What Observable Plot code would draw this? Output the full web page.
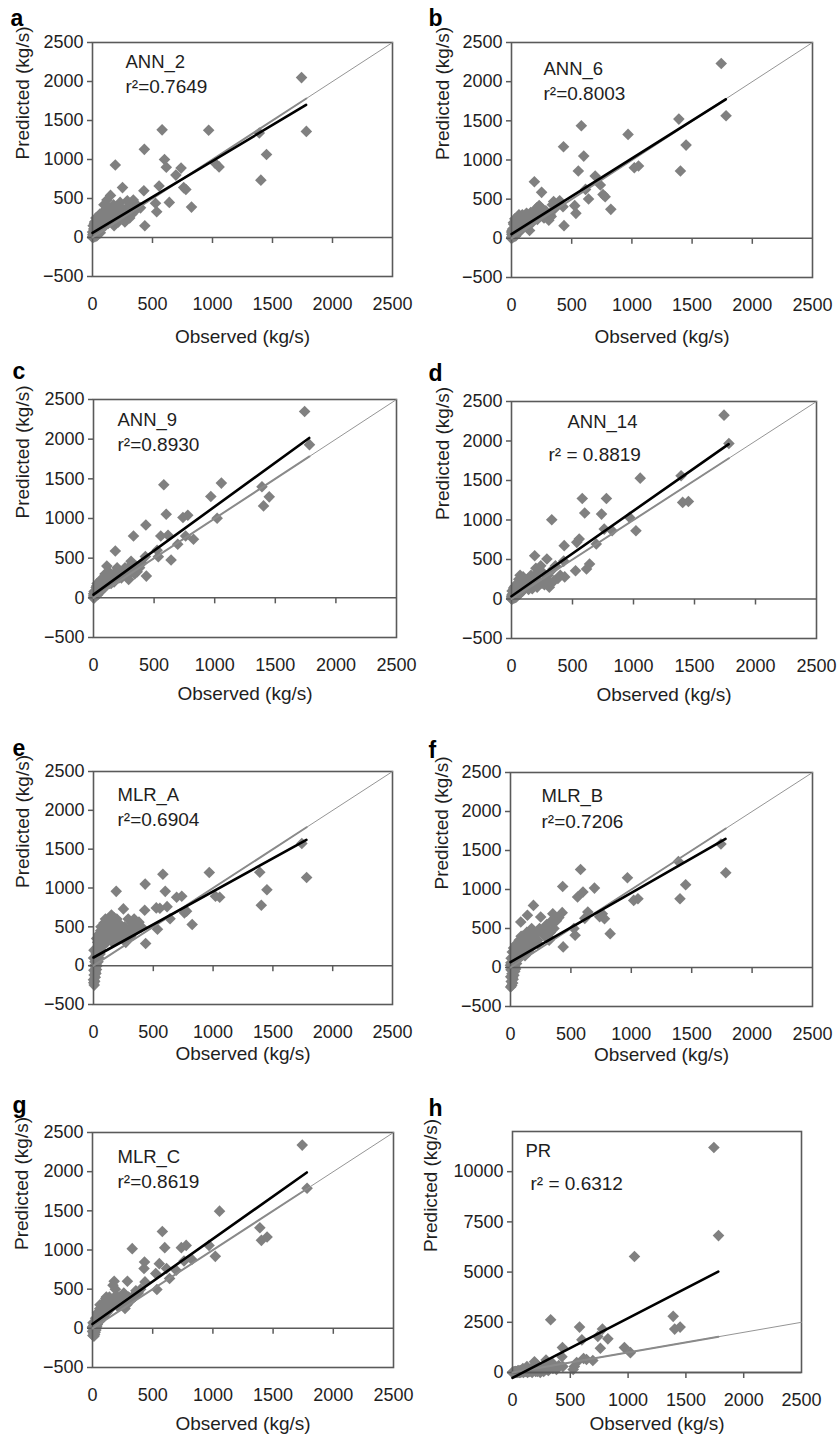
<!DOCTYPE html>
<html><head><meta charset="utf-8">
<script src="https://cdn.jsdelivr.net/npm/d3@7"></script>
<script src="https://cdn.jsdelivr.net/npm/@observablehq/plot@0.6"></script>
<style>
body{margin:0;background:#fff;}
#fig{position:relative;width:839px;height:1436px;overflow:hidden;background:#fff;}
.panel{position:absolute;}
</style></head><body><div id="fig"></div>
<script>
// ---- data ----
const panelKeys = ["a","b","c","d","e","f","g","h"];
const modelNames = ["ANN_2","ANN_6","ANN_9","ANN_14","MLR_A","MLR_B","MLR_C","PR"];
const r2Labels = ["r²=0.7649","r²=0.8003","r²=0.8930","r² = 0.8819","r²=0.6904","r²=0.7206","r²=0.8619","r² = 0.6312"];
const xTicks = [0, 500, 1000, 1500, 2000, 2500];
const yTicksMain = [-500, 0, 500, 1000, 1500, 2000, 2500];
const yTicksPR = [0, 2500, 5000, 7500, 10000];
const xTitle = "Observed (kg/s)";
const yTitle = "Predicted (kg/s)";

const observed = [
1742, 1782, 1390, 1403, 1450, 968, 1020, 1055, 825, 778,
760, 738, 695, 640, 615, 600, 580, 555, 535, 525,
432, 428, 436, 330, 290, 350, 380, 400, 310, 270,
250, 240, 225, 210, 200, 190, 180, 170, 160, 150,
140, 130, 120, 110, 100, 95, 90, 85, 80, 75,
70, 65, 60, 55, 50, 45, 40, 38, 35, 30,
28, 25, 22, 20, 18, 15, 12, 10, 8, 6,
5, 4, 3, 2, 1, 0,
360, 340, 320, 300, 285, 260, 230, 215, 195, 175,
165, 145, 135, 125, 115, 105, 88, 72, 62, 48,
42, 33, 26, 16];

const predANN2 = [
2050, 1360, 1340, 735, 1065, 1375, 955, 905, 390, 615,
640, 890, 800, 450, 900, 1000, 1380, 660, 330, 440,
1130, 600, 150, 300, 470, 430, 400, 380, 250, 200,
640, 380, 330, 400, 260, 930, 150, 300, 350, 540,
220, 180, 480, 300, 250, 420, 200, 130, 170, 280,
120, 60, 230, 90, 150, 40, 180, 100, 20, 70,
250, 130, 50, 10, 200, 80, 30, 110, 5, 60,
150, 20, 40, 10, 70, 0,
350, 480, 420, 300, 380, 260, 450, 200, 330, 420,
250, 300, 380, 200, 260, 150, 330, 200, 300, 110,
250, 160, 90, 180];
const predANN6 = [
2232, 1565, 1522, 859, 1190, 1327, 901, 923, 370, 531,
560, 680, 795, 502, 625, 1050, 1437, 859, 319, 417,
1169, 404, 162, 280, 330, 470, 420, 480, 230, 260,
587, 400, 350, 390, 300, 723, 250, 200, 330, 100,
280, 180, 300, 220, 160, 250, 300, 120, 200, 270,
150, 80, 280, 120, 200, 60, 220, 90, 30, 160,
250, 110, 40, 20, 180, 70, 30, 120, 10, 60,
100, 20, 50, 10, 80, 0,
380, 430, 300, 260, 350, 280, 420, 240, 350, 300,
280, 220, 180, 320, 260, 200, 250, 140, 300, 100,
180, 240, 120, 200];
const predANN9 = [
2348, 1931, 1400, 1159, 1273, 1277, 1003, 1446, 738, 1041,
780, 1012, 675, 476, 788, 1054, 1425, 780, 519, 600,
919, 520, 274, 780, 232, 400, 380, 440, 460, 300,
350, 280, 300, 250, 330, 290, 590, 200, 260, 220,
300, 180, 200, 400, 150, 300, 130, 260, 120, 200,
100, 220, 90, 160, 70, 150, 60, 110, 40, 180,
80, 50, 130, 30, 90, 20, 60, 10, 40, 0,
80, 20, 30, 5, 50, 0,
330, 300, 350, 400, 280, 380, 250, 320, 380, 260,
300, 180, 250, 330, 200, 260, 180, 140, 230, 100,
190, 80, 150, 60];
const predANN14 = [
2327, 1969, 1560, 1223, 1235, 1033, 864, 1530, 864, 1273,
885, 1075, 696, 443, 380, 1088, 1273, 759, 717, 358,
675, 480, 280, 1003, 506, 232, 260, 300, 150, 180,
200, 420, 350, 150, 390, 548, 250, 130, 300, 180,
120, 250, 150, 200, 120, 280, 100, 180, 220, 80,
300, 60, 250, 100, 180, 40, 130, 70, 20, 110,
160, 50, 90, 10, 140, 30, 70, 20, 40, 0,
100, 15, 50, 5, 30, 0,
420, 380, 200, 300, 250, 330, 200, 250, 300, 170,
220, 260, 200, 170, 230, 150, 160, 250, 120, 200,
90, 160, 60, 120];
const predMLRA = [
1573, 1135, 1203, 778, 978, 1199, 893, 880, 531, 702,
680, 893, 880, 604, 760, 957, 1178, 740, 468, 744,
1050, 714, 285, 520, 600, 450, 560, 500, 380, 300,
731, 450, 400, 550, 350, 957, 480, 620, 300, 651,
450, 380, 520, 300, 600, 420, 350, 480, 260, 400,
300, 200, 450, 150, 350, 100, 250, 50, 300, 0,
200, -50, 150, -100, 100, -150, 50, -200, 0, -250,
-120, 200, -60, -220, 100, -180,
480, 600, 550, 450, 380, 500, 420, 350, 600, 500,
400, 550, 450, 350, 500, 400, 550, 300, 500, 250,
400, 150, 350, -80];
const predMLRB = [
1584, 1214, 1359, 882, 1060, 1150, 860, 882, 434, 626,
690, 650, 1018, 711, 630, 967, 1256, 903, 413, 500,
1039, 703, 264, 450, 520, 690, 600, 640, 400, 450,
647, 500, 350, 420, 300, 796, 380, 250, 330, 200,
669, 300, 150, 250, 400, 180, 300, 583, 200, 250,
150, 300, 100, 200, 50, 250, 0, 150, -50, 100,
-100, 250, -150, 50, -200, 200, -80, -230, 0, -180,
120, -30, 60, -120, -250, 30,
500, 600, 350, 550, 400, 480, 300, 450, 350, 500,
280, 400, 450, 350, 300, 200, 400, 350, 250, 300,
-20, 200, 120, -130];
const predMLRC = [
2339, 1788, 1284, 1123, 1165, 1059, 919, 1496, 880, 1059,
860, 1030, 742, 636, 763, 1030, 1237, 826, 496, 700,
847, 763, 593, 1017, 602, 403, 450, 500, 380, 254,
350, 300, 400, 280, 330, 500, 602, 550, 300, 250,
400, 350, 200, 380, 300, 150, 320, 250, 180, 300,
200, 100, 250, 150, 80, 180, 50, 120, 20, 100,
-20, 60, -50, 30, -80, 10, -100, 40, -60, 0,
-30, 70, -90, 20, -40, 10,
480, 420, 360, 400, 300, 450, 330, 380, 420, 360,
300, 380, 300, 330, 400, 250, 280, 220, 300, 150,
200, 80, 130, -30];
const predPR = [
11206, 6817, 2797, 2161, 2261, 1240, 988, 5779, 1675, 2161,
1206, 1792, 600, 650, 700, 1625, 2261, 500, 300, 150,
1240, 787, 300, 2630, 620, 200, 150, 350, 100, 50,
200, 0, 100, 400, 50, 536, 150, 0, 200, 50,
100, 0, 150, 50, 100, 0, 200, 50, 30, 100,
50, 0, 80, 20, 60, 0, 40, 10, 30, 0,
20, 50, 0, 10, 30, 0, 20, 0, 10, 0,
5, 0, 10, 0, 0, 0,
300, 500, 200, 150, 300, 100, 250, 50, 300, 100,
200, 150, 50, 300, 100, 150, 50, 100, 0, 100,
50, 0, 50, 0];
const predictions = [predANN2, predANN6, predANN9, predANN14, predMLRA, predMLRB, predMLRC, predPR];

// trend line values at observed = 0 and observed = 1780
const trendX = [0, 1780];
const trendY = [[60, 1700], [55, 1775], [40, 2015], [35, 1960], [105, 1620], [70, 1650], [55, 1990], [-270, 5020]];
// 1:1 line (full extent and over the observed range)
const oneToOne = [0, 2500];
const oneToOneObs = [0, 1782];

// ---- layout (pixels) ----
const layout = {
  a: {left:0, top:0, width:420, height:350, mL:92, mR:28, mT:42, mB:74, letterX:10, letterY:25, model:[33,25], r2:[33,50], xt:60, yt:-70},
  b: {left:420, top:0, width:419, height:350, mL:91, mR:27, mT:42, mB:73, letterX:8, letterY:25, model:[32,32], r2:[32,57], xt:59, yt:-69},
  c: {left:0, top:350, width:420, height:360, mL:93, mR:24, mT:49, mB:73, letterX:12, letterY:28, model:[24,26], r2:[24,51], xt:56, yt:-71},
  d: {left:420, top:350, width:419, height:360, mL:91, mR:23, mT:51, mB:72, letterX:8, letterY:30, model:[56,26], r2:[37,59], xt:56, yt:-69},
  e: {left:0, top:710, width:420, height:360, mL:93, mR:28, mT:61, mB:66, letterX:12, letterY:45, model:[24,29], r2:[24,54], xt:49, yt:-71},
  f: {left:420, top:710, width:419, height:360, mL:90, mR:27, mT:62, mB:64, letterX:8, letterY:47, model:[31,29], r2:[31,55], xt:48, yt:-69},
  g: {left:0, top:1070, width:420, height:366, mL:92, mR:27, mT:62, mB:69, letterX:12, letterY:42, model:[25,30], r2:[25,55], xt:56, yt:-71},
  h: {left:420, top:1070, width:419, height:366, mL:92, mR:38, mT:61, mB:64, letterX:8, letterY:45, model:[13,25], r2:[18,58], xt:51, yt:-82}
};

const FONT = '"Liberation Sans", Arial, Helvetica, sans-serif';
const AXIS = "#5a5a5a";
const diamond = {draw(ctx, size) { const r = Math.sqrt(size / Math.PI); ctx.moveTo(0, -r); ctx.lineTo(r, 0); ctx.lineTo(0, r); ctx.lineTo(-r, 0); ctx.closePath(); }};
const tickDown = {draw(ctx, size) { const r = Math.sqrt(size / Math.PI); ctx.moveTo(0, 0); ctx.lineTo(0, r); }};
const fmt = d3.format("d");

const fig = document.getElementById("fig");
panelKeys.forEach((key, i) => {
  const L = layout[key];
  const isPR = key === "h";
  const pts = observed.map((o, j) => ({o, p: predictions[i][j]}));
  const trend = trendX.map((x, j) => ({x, y: trendY[i][j]}));
  const diag = oneToOne.map(v => ({x: v, y: v}));
  const diagObs = oneToOneObs.map(v => ({x: v, y: v}));
  const innerTicks = xTicks.slice(1, -1).map(v => ({x: v, y: 0}));
  const chart = Plot.plot({
    width: L.width, height: L.height,
    marginLeft: L.mL, marginRight: L.mR, marginTop: L.mT, marginBottom: L.mB,
    style: {fontFamily: FONT, fontSize: "18px", color: "#1e1e1e", background: "white"},
    x: {domain: [0, 2500], axis: null},
    y: {domain: isPR ? [0, 12000] : [-500, 2500], axis: null},
    marks: [
      Plot.dot(pts, {x: "o", y: "p", symbol: diamond, r: 5.8, fill: "#808080", stroke: "none"}),
      Plot.ruleY([0], {stroke: AXIS, strokeWidth: 1.5}),
      Plot.dot(innerTicks, {x: "x", y: "y", symbol: tickDown, r: 5.5, stroke: AXIS, strokeWidth: 1.5, fill: "none"}),
      Plot.frame({stroke: AXIS, strokeWidth: 1.6}),
      Plot.axisY({ticks: isPR ? yTicksPR : yTicksMain, tickFormat: fmt, tickSize: 5, tickPadding: 4, stroke: AXIS, strokeWidth: 1.5, fontSize: 18, label: null}),
      Plot.axisX({ticks: xTicks, tickFormat: fmt, tickSize: 0, tickPadding: 21, fontSize: 18, label: null}),
      Plot.line(diag, {x: "x", y: "y", stroke: "#959595", strokeWidth: 1}),
      Plot.line(diagObs, {x: "x", y: "y", stroke: "#8a8a8a", strokeWidth: 2}),
      Plot.line(trend, {x: "x", y: "y", stroke: "#000", strokeWidth: 2.6}),
      Plot.text([modelNames[i]], {frameAnchor: "top-left", dx: L.model[0], dy: L.model[1], textAnchor: "start", lineAnchor: "bottom", fontSize: 18.5, fill: "#1e1e1e"}),
      Plot.text([r2Labels[i]], {frameAnchor: "top-left", dx: L.r2[0], dy: L.r2[1], textAnchor: "start", lineAnchor: "bottom", fontSize: 19, fill: "#1e1e1e"}),
      Plot.text([xTitle], {frameAnchor: "bottom", dy: L.xt, lineAnchor: "middle", fontSize: 19, fill: "#1e1e1e"}),
      Plot.text([yTitle], {frameAnchor: "left", dx: L.yt, rotate: -90, lineAnchor: "middle", fontSize: 19, fill: "#1e1e1e"}),
      Plot.text([key], {frameAnchor: "top-left", dx: L.letterX - L.mL, dy: L.letterY - L.mT, textAnchor: "start", lineAnchor: "bottom", fontSize: 23, fontWeight: "bold", fill: "#000"})
    ]
  });
  const div = document.createElement("div");
  div.className = "panel";
  div.style.left = L.left + "px";
  div.style.top = L.top + "px";
  div.appendChild(chart);
  fig.appendChild(div);
});
</script></body></html>
